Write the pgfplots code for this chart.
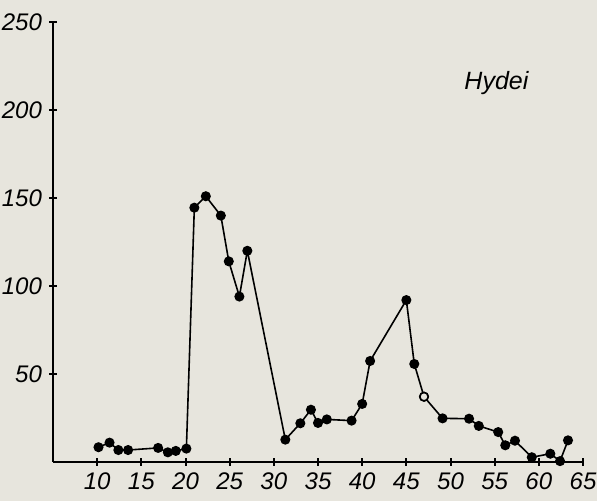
\documentclass[border=0pt]{standalone}
\usepackage{pgfplots}
\pgfplotsset{compat=1.18}
\usepackage{fontspec}
\setmainfont{Liberation Sans}
\definecolor{bg}{RGB}{231,229,221}
\begin{document}
\begin{tikzpicture}
\fill[bg] (-26.5pt,-19.5pt) rectangle (272pt,231pt);
\begin{axis}[
  scale only axis,
  width=265pt, height=220pt,
  xmin=5, xmax=65, ymin=0, ymax=250,
  axis x line*=bottom, axis y line*=left,
  axis line style={-, line width=1pt},
  xtick={10,15,...,65}, ytick={50,100,150,200,250},
  tick align=center, major tick length=4pt,
  tick style={black, line width=1pt},
  /pgf/number format/assume math mode=true,
  ticklabel style={font=\fontsize{12}{14}\selectfont\itshape},
  clip=false,
]
\addplot[black, line width=0.8pt, mark=*, mark size=2.1pt] coordinates {
(10.15,8.4) (11.4,11) (12.4,6.8) (13.5,6.8) (16.9,8) (18.0,5.5) (18.9,6.3) (20.1,7.6)
(21.0,144.5) (22.3,151) (24.0,140) (24.9,114) (26.1,94) (27.0,120)
(31.3,12.7) (33.0,22) (34.2,29.7) (35.0,22.2) (36.0,24.2) (38.8,23.5)
(40.0,33) (40.9,57.4) (45.0,92) (45.9,55.7) (47.0,37.1) (49.1,24.8)
(52.1,24.6) (53.2,20.5) (55.4,17) (56.2,9.5) (57.3,12.1) (59.2,2.7)
(61.3,4.7) (62.4,0.5) (63.3,12.3)
};
\addplot[only marks, mark=*, mark size=2.1pt, mark options={fill=bg, draw=black, line width=0.8pt}] coordinates {(47.0,37.1)};
\node[font=\fontsize{12.5}{14}\selectfont\itshape, anchor=base, inner sep=0pt] at (axis cs:55.2,211.4) {Hydei};
\end{axis}
\pgfresetboundingbox
\path (-26.5pt,-19.5pt) rectangle (272pt,231pt);
\end{tikzpicture}
\end{document}
